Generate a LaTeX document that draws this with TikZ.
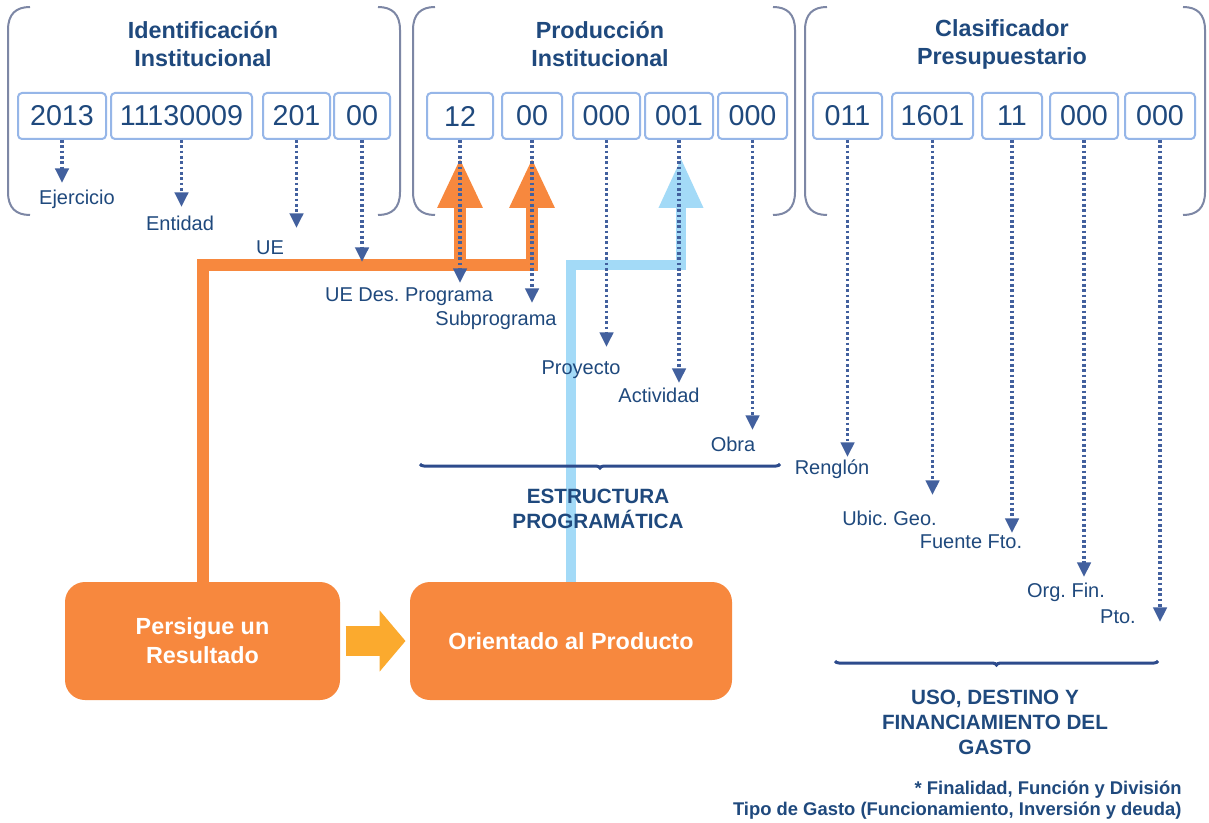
\documentclass[tikz,border=0pt]{standalone}
\usepackage{fontspec}
\setmainfont{Liberation Sans}
\usetikzlibrary{arrows.meta,decorations.pathreplacing}
\frenchspacing

\definecolor{azulTexto}{RGB}{31,73,125}
\definecolor{azulFlecha}{RGB}{66,96,158}
\definecolor{azulLlave}{RGB}{45,75,140}
\definecolor{bordeCaja}{RGB}{150,182,232}
\definecolor{corchete}{RGB}{125,135,165}
\definecolor{naranja}{RGB}{247,136,62}
\definecolor{celeste}{RGB}{163,218,247}
\definecolor{amarillo}{RGB}{251,170,46}

\tikzset{every picture/.style={line width=0.75pt}}
\tikzset{
  codigo/.style={draw=bordeCaja, line width=1.5pt, rounded corners=3pt, fill=white,
    minimum height=34.5pt, inner sep=0pt, text=azulTexto, font=\fontsize{21.5}{24}\selectfont},
  titulo/.style={text=azulTexto, font=\bfseries\fontsize{17.5}{21}\selectfont, align=center, inner sep=0pt},
  etiqueta/.style={text=azulTexto, font=\fontsize{15}{18}\selectfont, inner sep=0pt},
  subtitulo/.style={text=azulTexto, font=\bfseries\fontsize{15.5}{18.6}\selectfont, align=center, inner sep=0pt},
  nota/.style={text=azulTexto, font=\bfseries\fontsize{13.8}{15.75}\selectfont, align=right, inner sep=0pt},
  corch/.style={draw=corchete, line width=1.5pt},
  dotarrow/.style={draw=azulFlecha, line width=2.6pt, dash pattern=on 2pt off 2pt, -{Triangle[width=10pt,length=11pt]}},
  llave/.style={draw=azulLlave, line width=2.25pt, decorate, decoration={brace, amplitude=3pt, mirror}},
  caja/.style={fill=naranja, rounded corners=15pt, text=white, align=center, inner sep=0pt,
    font=\bfseries\fontsize{17.5}{21.75}\selectfont, minimum height=88.5pt},
  flujoN/.style={draw=naranja, line width=9pt, line join=miter, -{Triangle[width=31.5pt,length=37.5pt]}},
  flujoC/.style={draw=celeste, line width=7.5pt, line join=miter, -{Triangle[width=31.5pt,length=37.5pt]}},
  flechaG/.style={draw=amarillo, line width=22.5pt, -{Triangle[width=45pt,length=19.5pt]}, shorten <=3.75pt, shorten >=3pt}
}

\begin{document}
\begin{tikzpicture}[x=0.75pt,y=0.75pt,yscale=-1,xscale=1]
    \fill[white] (0,0) rectangle (1209,823);
    \useasboundingbox (0,0) rectangle (1209,823);

    %Shape: Brackets
    \draw[corch] (30,7) .. controls (16,7) and (8,14) .. (8,30) -- (8,192) .. controls (8,208) and (16,215) .. (30,215);
    \draw[corch] (378,7) .. controls (392,7) and (400,14) .. (400,30) -- (400,192) .. controls (400,208) and (392,215) .. (378,215);
    \draw[corch] (435,7) .. controls (421,7) and (413,14) .. (413,30) -- (413,192) .. controls (413,208) and (421,215) .. (435,215);
    \draw[corch] (773,7) .. controls (787,7) and (795,14) .. (795,30) -- (795,192) .. controls (795,208) and (787,215) .. (773,215);
    \draw[corch] (827,7) .. controls (813,7) and (805,14) .. (805,30) -- (805,192) .. controls (805,208) and (813,215) .. (827,215);
    \draw[corch] (1183,7) .. controls (1197,7) and (1205,14) .. (1205,30) -- (1205,192) .. controls (1205,208) and (1197,215) .. (1183,215);

    % Titles
    \node[titulo] (tIdent) at (203,44) {Identificación\\Institucional};
    \node[titulo] (tProd) at (600,44) {Producción\\Institucional};
    \node[titulo] (tClas) at (1002,44) {Clasificador\\Presupuestario};

    % Code boxes
    \node[codigo, minimum width=66pt] (b1) at (62,116) {2013};
    \node[codigo, minimum width=105.75pt] (b2) at (181.5,116) {11130009};
    \node[codigo, minimum width=50.25pt] (b3) at (296.5,116) {201};
    \node[codigo, minimum width=42pt] (b4) at (362,116) {00};
    \node[codigo, minimum width=49.5pt] (b5) at (460,116) {12};
    \node[codigo, minimum width=45pt] (b6) at (532,116) {00};
    \node[codigo, minimum width=50.25pt] (b7) at (606.5,116) {000};
    \node[codigo, minimum width=51pt] (b8) at (679,116) {001};
    \node[codigo, minimum width=51.75pt] (b9) at (752.5,116) {000};
    \node[codigo, minimum width=51.75pt] (b10) at (847.5,116) {011};
    \node[codigo, minimum width=60.75pt] (b11) at (932.5,116) {1601};
    \node[codigo, minimum width=45pt] (b12) at (1012,116) {11};
    \node[codigo, minimum width=51pt] (b13) at (1084,116) {000};
    \node[codigo, minimum width=52.5pt] (b14) at (1160,116) {000};

    % Bottom boxes
    \node[caja, minimum width=206.25pt] (persigue) at (202.5,641) {Persigue un\\Resultado};
    \node[caja, minimum width=241.5pt] (orientado) at (571,641) {Orientado al Producto};
    \draw[flechaG] (persigue.east) -- (orientado.west);

    % Flows
    \coordinate (pProg) at (460,158);
    \coordinate (pSub) at (532,158);
    \coordinate (pAct) at (681,158);
    \draw[flujoC] (orientado.north) |- (pAct |- 0,265) -- (pAct);
    \draw[flujoN] (persigue.north) |- (pSub |- 0,265) -- (pSub);
    \draw[flujoN] (pProg |- 0,270) -- (pProg);

    % Dotted arrows
    \foreach \b/\y in {b1/183, b2/207, b3/228, b4/262, b5/283, b6/303, b7/347, b8/383,
                       b9/430, b10/457, b11/495, b12/533, b13/577, b14/622}
        \draw[dotarrow] (\b.south) -- (\b.south |- 0,\y);

    % Labels
    \node[etiqueta] (lEje) at (77,199) {Ejercicio};
    \node[etiqueta] (lEnt) at (180,223) {Entidad};
    \node[etiqueta] (lUE) at (270,248) {UE};
    \node[etiqueta] (lUEDes) at (409,297) {UE Des. Programa};
    \node[etiqueta] (lSub) at (496,320) {Subprograma};
    \node[etiqueta] (lProy) at (581,370) {Proyecto};
    \node[etiqueta] (lAct) at (659,395) {Actividad};
    \node[etiqueta] (lObra) at (733,444) {Obra};
    \node[etiqueta] (lReng) at (832,469) {Renglón};
    \node[etiqueta] (lUbic) at (889.5,518) {Ubic. Geo.};
    \node[etiqueta] (lFte) at (971,542) {Fuente Fto.};
    \node[etiqueta] (lOrg) at (1066,592) {Org. Fin.};
    \node[etiqueta] (lPto) at (1118,617) {Pto.};

    % Braces
    \draw[llave] (420,464) -- (780,464);
    \draw[llave] (835,661) -- (1158,661);

    % Group texts
    \node[subtitulo] (estructura) at (598,509) {ESTRUCTURA\\PROGRAMÁTICA};
    \node[subtitulo] (uso) at (995,722.5) {USO, DESTINO Y\\FINANCIAMIENTO DEL\\GASTO};
    \node[nota, anchor=east] (notaPie) at (1182,800) {* Finalidad, Función y División\\Tipo de Gasto (Funcionamiento, Inversión y deuda)};

\end{tikzpicture}
\end{document}
